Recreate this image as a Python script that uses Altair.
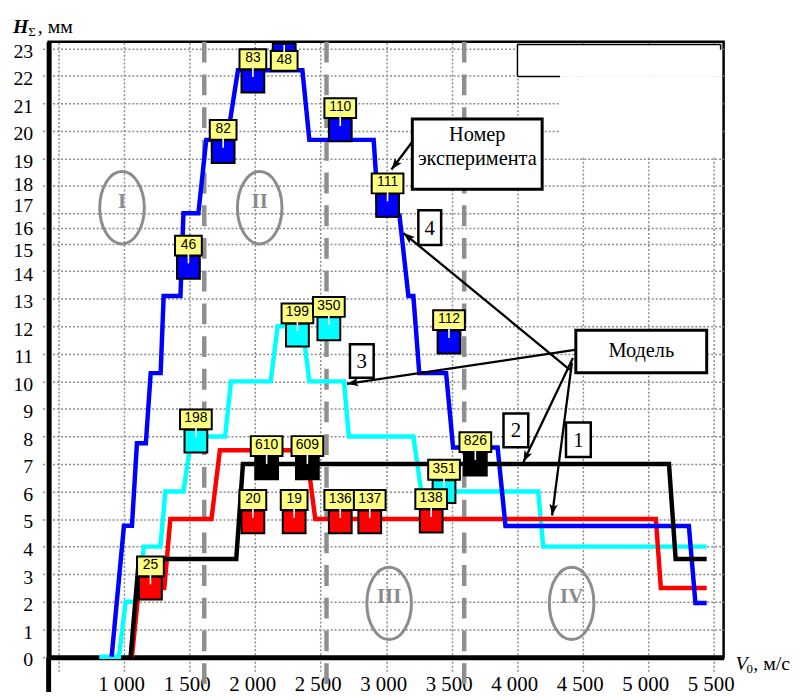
import math
import altair as alt
import pandas as pd

# ---------------- data ----------------
# Model curves 1..4 (step profiles): V0 [m/s] -> H_sum [mm]
curve1_v = [1060, 1113, 1307, 1353, 1667, 1731, 2391, 2459, 5059, 5097, 5447]
curve1_h = [0, 2.5, 2.5, 5.0, 5.0, 7.5, 7.5, 5.0, 5.0, 2.5, 2.5]
curve2_v = [1050, 1113, 1856, 1907, 5159, 5210, 5447]
curve2_h = [0, 3.55, 3.55, 7.0, 7.0, 3.55, 3.55]
curve3_v = [810, 961, 1012, 1100, 1151, 1277, 1315, 1453, 1514, 1771, 1816,
            2119, 2172, 2361, 2414, 2678, 2716, 3208, 3268, 4161, 4199, 5447]
curve3_h = [0, 0, 2, 2, 4, 4, 6, 6, 8, 8, 10, 10, 12, 12, 10, 10, 8, 8, 6, 6, 4, 4]
curve4_v = [905, 999, 1060, 1098, 1166, 1203, 1279, 1302, 1430, 1453, 1567, 1627,
            1786, 1869, 2361, 2414, 2905, 2943, 3102, 3170, 3208, 3253, 3458, 3511,
            3851, 3911, 5311, 5361, 5447]
curve4_h = [0, 4.76, 4.76, 7.75, 7.75, 10.3, 10.3, 13.1, 13.1, 17.0, 17.0, 19.67,
            19.67, 22.2, 22.2, 19.67, 19.67, 16.85, 16.85, 13.1, 13.1, 10.3, 10.3, 7.6,
            7.6, 4.75, 4.75, 1.95, 1.95]
curve_names = ["1", "2", "3", "4"]
curve_colors = ["#ff0000", "#000000", "#00ffff", "#0000ff"]

# Experiments (number, V0, H, curve)
exp_id = ["46", "82", "83", "48", "110", "111", "112", "198", "199", "350", "351",
          "25", "20", "19", "136", "137", "138", "610", "609", "826"]
exp_v = [1491, 1756, 1983, 2222, 2650, 3011, 3480, 1548, 2323, 2563, 3442,
         1201, 1983, 2298, 2650, 2875, 3344, 2088, 2399, 3681]
exp_h = [14.14, 19.24, 21.81, 22.76, 20.03, 17.29, 11.43, 7.83, 11.68, 11.91, 6.0,
         2.49, 4.9, 4.9, 4.9, 4.9, 4.93, 6.86, 6.86, 7.0]
exp_curve = ["4"] * 7 + ["3"] * 4 + ["1"] * 6 + ["2"] * 3
exp_label_below = ["48"]

# Zones
zone_bounds_v = [1612, 2545, 3596]
zone_label = ["I", "II", "III", "IV"]
zone_label_v = [984, 2035, 3023, 4416]
zone_label_h = [17.2, 17.2, 1.94, 1.94]

# Curve number tags
tag_text = ["4", "3", "2", "1"]
tag_v1 = [3246, 2724, 3896, 4373]
tag_v2 = [3420, 2905, 4085, 4562]
tag_h1 = [14.95, 10.13, 7.61, 7.25]
tag_h2 = [17.11, 11.35, 8.83, 8.51]

# Callout boxes
box_v1 = [3200, 4448]
box_v2 = [4191, 5447]
box_h1 = [17.87, 10.31]
box_h2 = [20.43, 11.86]
box_lines = ["Номер", "эксперимента", "Модель"]
box_line_v = [3696, 3696, 4948]
box_line_h = [19.85, 18.98, 11.1]

# Arrows (from -> tip)
arrow_from_v = [3200, 4403, 4441, 4426, 4418]
arrow_from_h = [19.6, 10.42, 11.14, 10.85, 10.67]
arrow_to_v = [3041, 3132, 2701, 4048, 4267]
arrow_to_h = [18.59, 15.70, 9.91, 7.07, 5.13]

x_ticks = list(range(500, 5501, 500))
y_ticks = list(range(0, 24))

# ---------------- scales / axes ----------------
W, H = 681, 621
X_DOMAIN = [424, 5576]
Y_DOMAIN = [0, 15, 17, 23.24]
Y_RANGE = [620.5, 203.7, 173, 0]
GRID = "#8c8c8c"
SERIF = "Liberation Serif"

x_scale = alt.Scale(domain=X_DOMAIN, nice=False, zero=False)
y_scale = alt.Scale(domain=Y_DOMAIN, range=Y_RANGE, nice=False, zero=False)

x_axis = alt.Axis(
    values=x_ticks, title=None, grid=True, gridColor=GRID, gridDash=[2, 2], gridWidth=1.5,
    domainColor="black", domainWidth=5, ticks=True, tickSize=15, tickColor=GRID,
    tickDash=[2, 2], tickWidth=1.5, labelFont=SERIF, labelFontSize=21, labelColor="black",
    labelPadding=1.5, labelOverlap=False, labelFlush=False, labelOffset=-3,
    labelExpr="datum.value < 900 ? '' : replace(format(datum.value, ','), ',', ' ')",
)
y_axis = alt.Axis(
    values=y_ticks, title=None, grid=True, gridColor=GRID, gridDash=[2, 2], gridWidth=1.5,
    domainColor="black", domainWidth=5, ticks=True, tickSize=7, tickColor=GRID,
    tickDash=[2, 2], tickWidth=1.5, labelFont=SERIF, labelFontSize=20, labelColor="black",
    labelPadding=9, labelOverlap=False, labelFlush=False,
    labelOffset={"condition": [{"test": "datum.value == 18", "value": -1},
                               {"test": "datum.value == 17", "value": -8},
                               {"test": "datum.value == 16", "value": 0},
                               {"test": "datum.value == 15", "value": 7}],
                 "value": 3},
)


def X(field):
    return alt.X(field, type="quantitative", scale=x_scale, axis=x_axis)


def Y(field):
    return alt.Y(field, type="quantitative", scale=y_scale, axis=y_axis)


def X2(field):
    return alt.X2(field)


def Y2(field):
    return alt.Y2(field)


def to_px(v):
    return (v - X_DOMAIN[0]) * W / (X_DOMAIN[1] - X_DOMAIN[0])


def to_py(h):
    for i in range(3):
        if h <= Y_DOMAIN[i + 1] or i == 2:
            t = (h - Y_DOMAIN[i]) / (Y_DOMAIN[i + 1] - Y_DOMAIN[i])
            return Y_RANGE[i] + t * (Y_RANGE[i + 1] - Y_RANGE[i])


layers = []

# zone boundaries
zdf = pd.DataFrame({"v": zone_bounds_v})
layers.append(alt.Chart(zdf).mark_rule(color="#8f8f8f", strokeWidth=4.5, strokeDash=[21, 12]).encode(
    x=X("v"), y=alt.value(0), y2=alt.value(650)))

# zone ellipses + numerals
zldf = pd.DataFrame({"t": zone_label, "v": zone_label_v, "h": zone_label_h})
ell = "M-0.616,0A0.616,1,0,1,0,0.616,0A0.616,1,0,1,0,-0.616,0Z"
layers.append(alt.Chart(zldf).mark_point(shape=ell, size=5329, filled=False, stroke="#8c8c8c",
                                          strokeWidth=3, opacity=1).encode(x=X("v"), y=Y("h")))
layers.append(alt.Chart(zldf).mark_text(font=SERIF, fontSize=21, fontWeight="bold", color="#8a8a8a",
                                         dy=-6, baseline="middle", align="center").encode(
    x=X("v"), y=Y("h"), text="t:N"))

# white patch hiding cut legend
patch = pd.DataFrame({"x": [473, 516], "x2": [679, 679], "y": [2, 35], "y2": [35, 116]})
for _, r in patch.iterrows():
    layers.append(alt.Chart(pd.DataFrame({"a": [0]})).mark_rect(color="white").encode(
        x=alt.value(r.x), x2=alt.value(r.x2), y=alt.value(r.y), y2=alt.value(r.y2)))
for (a, b, c, d) in [(473, 473, 2.7, 35), (473, 516, 35, 35), (473, 678, 2.7, 2.7), (678, 678, 2.7, 8)]:
    layers.append(alt.Chart(pd.DataFrame({"a": [0]})).mark_rule(color="black", strokeWidth=1.5).encode(
        x=alt.value(a), x2=alt.value(b), y=alt.value(c), y2=alt.value(d)))

# model curves (draw order: 3, 1, 4, 2)
curves = {"1": (curve1_v, curve1_h), "2": (curve2_v, curve2_h),
          "3": (curve3_v, curve3_h), "4": (curve4_v, curve4_h)}
for name in ["3", "1", "4", "2"]:
    vs, hs = curves[name]
    df = pd.DataFrame({"v": vs, "h": hs, "i": list(range(len(vs)))})
    col = curve_colors[curve_names.index(name)]
    layers.append(alt.Chart(df).mark_line(color=col, strokeWidth=4.5).encode(
        x=X("v"), y=Y("h"), order="i:Q"))

# arrows
adf = pd.DataFrame({"v1": arrow_from_v, "h1": arrow_from_h, "v2": arrow_to_v, "h2": arrow_to_h})
adf["ang"] = [
    math.degrees(math.atan2(to_px(b) - to_px(a), -(to_py(d) - to_py(c)))) % 360
    for a, b, c, d in zip(adf.v1, adf.v2, adf.h1, adf.h2)
]
layers.append(alt.Chart(adf).mark_rule(color="black", strokeWidth=2.3).encode(
    x=X("v1"), y=Y("h1"), x2=X2("v2"), y2=Y2("h2")))
layers.append(alt.Chart(adf).mark_point(shape="M0,0L0.42,1.15L0,0.9L-0.42,1.15Z", size=400,
                                         filled=True, color="black", opacity=1).encode(
    x=X("v2"), y=Y("h2"), angle=alt.Angle("ang:Q", scale=None)))

# curve tags
tdf = pd.DataFrame({"t": tag_text, "v1": tag_v1, "v2": tag_v2, "h1": tag_h1, "h2": tag_h2})
tdf["vm"] = (tdf.v1 + tdf.v2) / 2
tdf["hm"] = (tdf.h1 + tdf.h2) / 2
layers.append(alt.Chart(tdf).mark_rect(fill="white", stroke="black", strokeWidth=2.5).encode(
    x=X("v1"), x2=X2("v2"), y=Y("h1"), y2=Y2("h2")))
layers.append(alt.Chart(tdf).mark_text(font=SERIF, fontSize=21, color="black", baseline="middle",
                                        align="center", dy=1).encode(x=X("vm"), y=Y("hm"), text="t:N"))

# callout boxes
bdf = pd.DataFrame({"v1": box_v1, "v2": box_v2, "h1": box_h1, "h2": box_h2})
layers.append(alt.Chart(bdf).mark_rect(fill="white", stroke="black", strokeWidth=3).encode(
    x=X("v1"), x2=X2("v2"), y=Y("h1"), y2=Y2("h2")))
ldf = pd.DataFrame({"t": box_lines, "v": box_line_v, "h": box_line_h})
layers.append(alt.Chart(ldf).mark_text(font=SERIF, fontSize=20.5, color="black", baseline="middle",
                                        align="center").encode(x=X("v"), y=Y("h"), text="t:N"))

# experiments
edf = pd.DataFrame({"id": exp_id, "v": exp_v, "h": exp_h, "c": exp_curve})
edf["below"] = edf["id"].isin(exp_label_below)
color_enc = alt.Color("c:N", scale=alt.Scale(domain=curve_names, range=curve_colors), legend=None)
path2 = "M-1.35,-1H1.35V1H-1.35Z"
path3 = "M-1.6,-1H1.6V1H-1.6Z"
shape_enc = alt.condition("length(datum.id) > 2", alt.value(path3), alt.value(path2))

layers.append(alt.Chart(edf).mark_square(size=529, filled=True, stroke="black", strokeWidth=2,
                                          opacity=1).encode(x=X("v"), y=Y("h"), color=color_enc))
for flt, off, tick in [("!datum.below", -22, "M0,-1.5L0,-0.4"), ("datum.below", 6, "M0,-1L0,0")]:
    base = alt.Chart(edf).transform_filter(flt)
    layers.append(base.mark_point(size=400, filled=True, fill="#ffff80", stroke="black",
                                  strokeWidth=2, opacity=1, yOffset=off).encode(
        x=X("v"), y=Y("h"), shape=shape_enc))
    layers.append(base.mark_point(shape=tick, size=400, filled=False, stroke="white",
                                  strokeWidth=1.6, opacity=1).encode(x=X("v"), y=Y("h")))
    layers.append(base.mark_text(font="Liberation Sans", fontSize=14, color="black",
                                 baseline="middle", align="center", dy=off - 1).encode(
        x=X("v"), y=Y("h"), text="id:N"))

# left axis extension below zero
layers.append(alt.Chart(pd.DataFrame({"a": [0]})).mark_rule(color="black", strokeWidth=5).encode(
    x=alt.value(0), y=alt.value(H), y2=alt.value(656)))

# axis titles
def txt(t, x, y, size, **kw):
    return alt.Chart(pd.DataFrame({"a": [0]})).mark_text(
        text=t, font=SERIF, fontSize=size, color="black", align="left", baseline="alphabetic", **kw
    ).encode(x=alt.value(x), y=alt.value(y))

layers.append(txt("H", -36, -9, 20, fontWeight="bold", fontStyle="italic"))
layers.append(txt("Σ", -20.5, -6, 13))
layers.append(txt(", мм", -11, -9, 20))
layers.append(txt("V", 693, 634, 20, fontStyle="italic"))
layers.append(txt("0", 704, 637, 13))
layers.append(txt(", м/с", 711, 634, 20))

chart = alt.layer(*layers).properties(
    width=W, height=H,
    autosize=alt.AutoSizeParams(type="none"),
    padding={"left": 41, "top": 31, "right": 68, "bottom": 36},
).configure_view(stroke="black", strokeWidth=2.5)

chart.save("out.html", embed_options={"renderer": "svg", "actions": False})
